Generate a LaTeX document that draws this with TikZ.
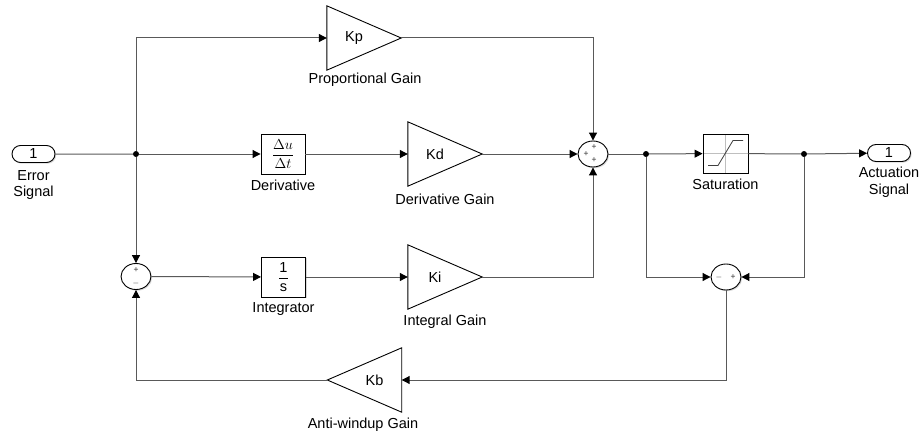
\documentclass[tikz,border=0pt]{standalone}
\usepackage{amsmath}
\usepackage{fontspec}
\setmainfont{Liberation Sans}
\usetikzlibrary{shapes.geometric, shapes.misc, arrows.meta, positioning, shadows}

\begin{document}
\begin{tikzpicture}[
    x=1pt, y=-1pt,
    font=\fontsize{14.5}{16.5}\selectfont,
    shade/.style={fill=white, drop shadow={opacity=0.3, shadow xshift=1.2pt, shadow yshift=-1.2pt}},
    block/.style={rectangle, draw, line width=0.9pt, shade, minimum width=44pt, minimum height=40pt, inner sep=0pt},
    gain/.style={rectangle, minimum width=74pt, minimum height=64pt, inner sep=0pt,
        append after command={\pgfextra{\draw[line width=0.9pt] (\tikzlastnode.north west) -- (\tikzlastnode.east)
            -- (\tikzlastnode.south west) -- cycle;}}},
    gainleft/.style={rectangle, minimum width=74pt, minimum height=64pt, inner sep=0pt,
        append after command={\pgfextra{\draw[line width=0.9pt] (\tikzlastnode.north east) -- (\tikzlastnode.west)
            -- (\tikzlastnode.south east) -- cycle;}}},
    sumblk/.style={ellipse, draw, line width=0.9pt, shade, minimum width=30pt, minimum height=26pt, inner sep=0pt},
    port/.style={rounded rectangle, draw, line width=0.9pt, shade, minimum width=43pt, minimum height=17pt, inner sep=0pt},
    line/.style={draw, black!65, line width=1pt, -{Triangle[length=8pt, width=8pt, color=black]}},
    wire/.style={draw, black!65, line width=1pt},
    dot/.style={circle, fill=black, inner sep=0pt, minimum size=6pt},
    caption/.style={align=center, inner sep=1pt},
    sign/.style={font=\fontsize{8.5}{8.5}\selectfont, inner sep=0pt, text=black!80},
    satbox/.style={block, minimum width=45pt, minimum height=39pt,
        path picture={
            \draw[black!25, line width=0.6pt] (path picture bounding box.north) -- (path picture bounding box.south)
                (path picture bounding box.west) -- (path picture bounding box.east);
            \draw[black!75, line width=0.8pt] ([shift={(-17.5,12)}]path picture bounding box.center)
                -- ++(10,0) -- ++(15,-25) -- ++(10,0);
        }}
]
    \useasboundingbox (0,0) rectangle (920,436);

    % Ports
    \node [port] (errin) at (33.5,154) {1};
    \node [caption, below=6pt of errin] (errcap) {Error\\Signal};
    \node [port] (actout) at (889,153) {1};
    \node [caption, below=4pt of actout] (actcap) {Actuation\\Signal};

    % Proportional path
    \node [gain, label={[xshift=-10pt]center:Kp}] (kp) at (364,38) {};
    \node [caption] (kpcap) at (365,80) {Proportional Gain};

    % Derivative path
    \node [block] (deriv) at (283,154) {$\dfrac{\Delta u}{\Delta t}$};
    \node [caption, below=4pt of deriv] (derivcap) {Derivative};
    \node [gain, label={[xshift=-10pt]center:Kd}] (kd) at (445,154) {};
    \node [caption] (kdcap) at (445,199) {Derivative Gain};

    % Integral path
    \node [sumblk] (sumint) at (136,276.5) {};
    \node [sign] at ([shift={(0,-6.5)}]sumint.center) {+};
    \node [sign] at ([shift={(0,6.5)}]sumint.center) {$-$};
    \node [block] (integ) at (283.5,277) {$\dfrac{\text{1}}{\text{s}}$};
    \node [caption, below=4pt of integ] (integcap) {Integrator};
    \node [gain, label={[xshift=-10pt]center:Ki}] (ki) at (445,277) {};
    \node [caption] (kicap) at (445,322) {Integral Gain};

    % PID sum
    \node [sumblk] (sumpid) at (593,154) {};
    \node [sign] at ([shift={(1,-6.5)}]sumpid.center) {+};
    \node [sign] at ([shift={(-7,0)}]sumpid.center) {+};
    \node [sign] at ([shift={(1,6.5)}]sumpid.center) {+};

    % Saturation and anti-windup
    \node [satbox] (sat) at (725.5,153.5) {};
    \node [caption, below=4pt of sat] (satcap) {Saturation};
    \node [sumblk] (sumaw) at (726,277) {};
    \node [sign] at ([shift={(-7,0)}]sumaw.center) {$-$};
    \node [sign] at ([shift={(7,0)}]sumaw.center) {+};
    \node [gainleft, label={[xshift=10pt]center:Kb}] (kb) at (364.5,380) {};
    \node [caption] (kbcap) at (363,425) {Anti-windup Gain};

    % Branch points
    \node [dot] (bpin) at (136,154) {};
    \node [dot] (bppid) at (646,154) {};
    \node [dot] (bpsat) at (804,154) {};

    % Connect nodes
    \path [wire] (errin) -- (bpin);
    \path [line] (bpin) -- (deriv);
    \path [line] (bpin) |- (kp);
    \path [line] (bpin) -- (sumint);
    \path [line] (deriv) -- (kd);
    \path [line] (kd) -- (sumpid);
    \path [line] (kp) -| (sumpid);
    \path [line] (sumint) -- (integ);
    \path [line] (integ) -- (ki);
    \path [line] (ki) -| (sumpid);
    \path [wire] (sumpid) -- (bppid);
    \path [line] (bppid) -- (sat);
    \path [wire] (sat) -- (bpsat);
    \path [line] (bpsat) -- (actout);

    % Anti-windup loop
    \path [line] (bppid) |- (sumaw);
    \path [line] (bpsat) |- (sumaw);
    \path [line] (sumaw) |- (kb);
    \path [line] (kb) -| (sumint);
\end{tikzpicture}
\end{document}
